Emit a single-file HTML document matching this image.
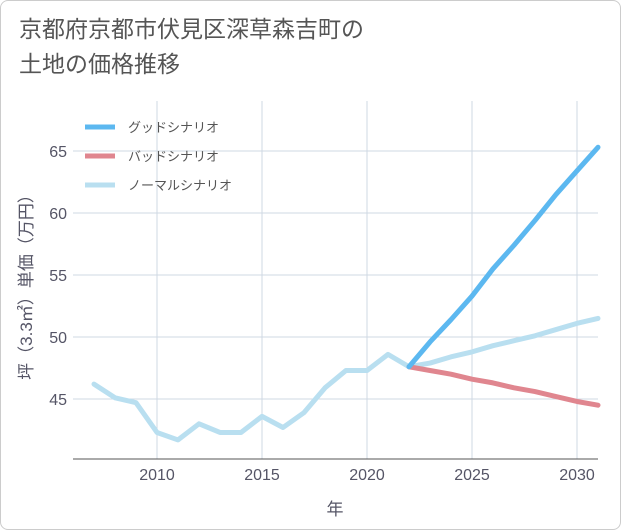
<!DOCTYPE html>
<html><head><meta charset="utf-8"><style>
body{margin:0;background:#fff;}
#wrap{position:relative;width:619px;height:528px;border:1px solid #ccc;border-radius:8px;background:#fff;overflow:hidden;font-family:"Liberation Sans","Noto Sans CJK JP",sans-serif;}
h1{position:absolute;left:18px;top:11px;margin:0;font-size:23px;font-weight:normal;color:#555;line-height:35px;}
</style></head><body>
<div id="wrap">
<h1>京都府京都市伏見区深草森吉町の<br>土地の価格推移</h1>
<svg id="c" width="621" height="530" style="position:absolute;left:0;top:0"></svg>
</div>
<script>
const years=[2007,2008,2009,2010,2011,2012,2013,2014,2015,2016,2017,2018,2019,2020,2021,2022];
const hist=[46.2,45.1,44.7,42.3,41.7,43.0,42.3,42.3,43.6,42.7,43.9,45.9,47.3,47.3,48.6,47.6];
const fYears=[2022,2023,2024,2025,2026,2027,2028,2029,2030,2031];
const good=[47.6,49.6,51.4,53.3,55.5,57.4,59.4,61.5,63.4,65.3];
const bad=[47.6,47.3,47.0,46.6,46.3,45.9,45.6,45.2,44.8,44.5];
const normal=[47.6,47.9,48.4,48.8,49.3,49.7,50.1,50.6,51.1,51.5];
const xTicks=[2010,2015,2020,2025,2030];
const yTicks=[45,50,55,60,65];
const L=72,R=597,T=100,B=458;
const x=v=>156+(v-2010)*21;
const y=v=>398-(v-45)*12.4;
const s=document.getElementById('c');const NS='http://www.w3.org/2000/svg';
function el(t,a,txt){const e=document.createElementNS(NS,t);for(const k in a)e.setAttribute(k,a[k]);if(txt!=null)e.textContent=txt;s.appendChild(e);return e;}
xTicks.forEach(t=>{const g=el('line',{x1:x(t),x2:x(t),y1:T,y2:B,stroke:'#cfd9e3'});


const l=el('text',{x:x(t),y:479,'text-anchor':'middle','font-size':16,fill:'#556'},String(t));

});
yTicks.forEach(t=>{const g=el('line',{x1:L,x2:R,y1:y(t),y2:y(t),stroke:'#cfd9e3'});


const l=el('text',{x:66,y:y(t)+6,'text-anchor':'end','font-size':16,fill:'#556'},String(t));

});
const ax=el('line',{x1:L,x2:R,y1:B,y2:B,stroke:'#555'});


function line(xs,vs,c,n){const p=el('polyline',{points:xs.map((v,i)=>x(v)+','+y(vs[i])).join(' '),fill:'none',stroke:c,'stroke-width':5,'stroke-linejoin':'round','stroke-linecap':'round'});

}
line(years,hist,'#b9dff0','history-line');
line(fYears,normal,'#b9dff0','normal-scenario-line');
line(fYears,bad,'#e0868f','bad-scenario-line');
line(fYears,good,'#5cb8f0','good-scenario-line');
const leg=[['グッドシナリオ','#5cb8f0'],['バッドシナリオ','#e0868f'],['ノーマルシナリオ','#b9dff0']];
leg.forEach((d,i)=>{const yy=126+i*29;
const m=el('line',{x1:84,x2:114,y1:yy,y2:yy,stroke:d[1],'stroke-width':5});


const t=el('text',{x:127,y:yy+5,'font-size':13,fill:'#555'},d[0]);

});
const xt=el('text',{x:334,y:514,'text-anchor':'middle','font-size':17,fill:'#556'},'年');


const yt=el('text',{x:0,y:0,'text-anchor':'middle','font-size':17,fill:'#556',transform:'translate(31,282) rotate(-90)'},'坪（3.3㎡）単価（万円）');


</script>
</body></html>
